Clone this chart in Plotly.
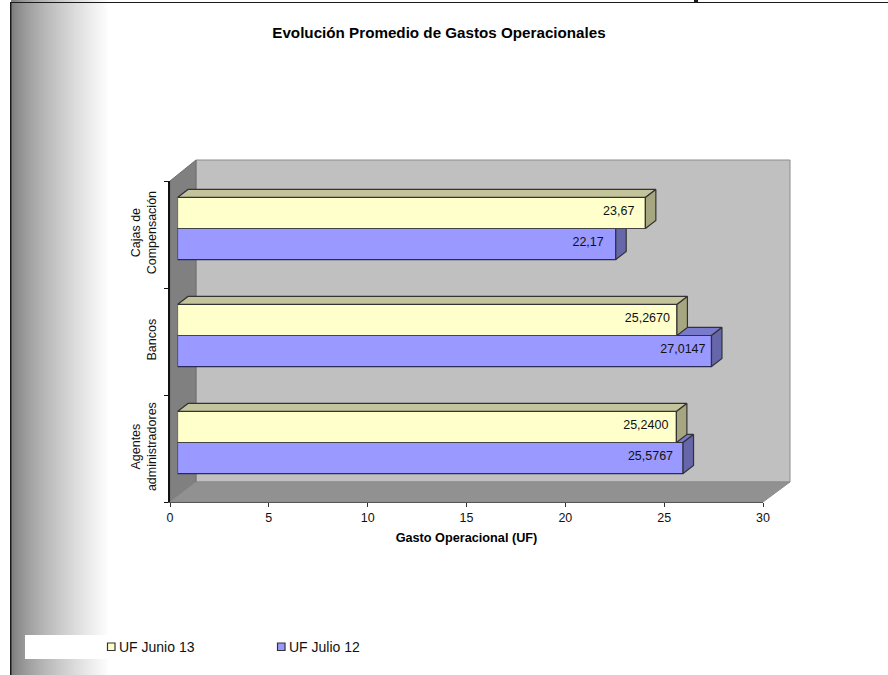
import numpy as np
import plotly.graph_objects as go

# Chart data (bottom to top on the category axis)
categories = ["Agentes<br>administradores", "Bancos", "Cajas de<br>Compensación"]
uf_junio_13 = [25.2400, 25.2670, 23.67]
uf_julio_12 = [25.5767, 27.0147, 22.17]
labels_junio_13 = ["25,2400", "25,2670", "23,67"]
labels_julio_12 = ["25,5767", "27,0147", "22,17"]
x_ticks = [0, 5, 10, 15, 20, 25, 30]
series_names = ["UF Junio 13", "UF Julio 12"]

W, H = 888, 675
FONT = "Liberation Sans"

# Pixel geometry of the pseudo-3D box
PLOT_L, PLOT_R, PLOT_T, PLOT_B = 170, 763, 181, 502
BACK_DX, BACK_DY = 26, 20
BAR_SHIFT_X, BAR_SHIFT_Y = 7.5, 6
BAR_W = 0.29
DEPTH_X = 0.53   # bar depth in x-axis units
DEPTH_Y = 0.075  # bar depth in category units
X_UNIT_PX = (PLOT_R - PLOT_L) / 30

# Distance in pixels from each bar end to the right edge of its label
label_pad_junio_13 = [8, 7, 11]
label_pad_julio_12 = [10, 6, 12]
LABEL_LIFT = 0.01  # small upward nudge of labels, in category units


def px(x):
    return x / W


def py(y):
    return 1 - y / H


def poly(points, fill, line=None, width=1):
    path = "M " + " L ".join(f"{px(a):.5f},{py(b):.5f}" for a, b in points) + " Z"
    return dict(type="path", xref="paper", yref="paper", path=path, fillcolor=fill,
                line=dict(color=line or fill, width=width), layer="below")


def rect(x0, y0, x1, y1, fill, line_w=0, line=None):
    return dict(type="rect", xref="paper", yref="paper", x0=px(x0), x1=px(x1),
                y0=py(y0), y1=py(y1), fillcolor=fill,
                line=dict(color=line or fill, width=line_w), layer="below")


shapes = []

# Soft grey band down the left side of the page
for x in range(11, 108):
    t = (x - 13) / 95 if x > 13 else 0
    g = int(min(255, 128 + 127 * t ** 0.75))
    shapes.append(rect(x, 0, x + 1, H, f"rgb({g},{g},{g})"))
shapes.append(rect(25, 635, 108, 659, "white"))

# Page frame
shapes.append(rect(10, 2, 11.5, H, "#1a1a1a"))
shapes.append(rect(10, 2, W, 3, "#1a1a1a"))
shapes.append(rect(694, 0, 698, 2, "#1a1a1a"))

# Walls and floor of the box
shapes.append(poly([(PLOT_L + BACK_DX, PLOT_T - 21), (PLOT_R + BACK_DX + 1, PLOT_T - 21),
                    (PLOT_R + BACK_DX + 1, PLOT_B - BACK_DY), (PLOT_L + BACK_DX, PLOT_B - BACK_DY)],
                   "#c0c0c0", "#8c8c8c"))
shapes.append(poly([(PLOT_L, PLOT_T), (PLOT_L + BACK_DX, PLOT_T - 21),
                    (PLOT_L + BACK_DX, PLOT_B - BACK_DY), (PLOT_L, PLOT_B)],
                   "#808080", "#707070"))
shapes.append(poly([(PLOT_L, PLOT_B), (PLOT_L + BACK_DX, PLOT_B - BACK_DY),
                    (PLOT_R + BACK_DX + 1, PLOT_B - BACK_DY), (PLOT_R, PLOT_B)],
                   "#919191", "#8c8c8c"))

# Legend swatches
shapes.append(rect(107.5, 643, 115, 650.5, "#ffffcc", 1.2, "#333333"))
shapes.append(rect(277.5, 643, 285, 650.5, "#9999ff", 1.2, "#333333"))


def bar_faces(values, centers, top_color, side_color, axes):
    """Top and right faces of each bar, built from the bar's own value."""
    xa, ya = axes
    top_x, top_y, side_x, side_y = [], [], [], []
    for v, c in zip(values, centers):
        hi, lo = c + BAR_W / 2, c - BAR_W / 2
        top_x += [0, DEPTH_X, v + DEPTH_X, v, 0, None]
        top_y += [hi, hi + DEPTH_Y, hi + DEPTH_Y, hi, hi, None]
        side_x += [v, v + DEPTH_X, v + DEPTH_X, v, v, None]
        side_y += [hi, hi + DEPTH_Y, lo + DEPTH_Y, lo, hi, None]
    faces = []
    for fx, fy, col in ((top_x, top_y, top_color), (side_x, side_y, side_color)):
        faces.append(go.Scatter(x=fx, y=fy, mode="lines", fill="toself", fillcolor=col,
                                line=dict(color="#333333", width=1.2), xaxis=xa, yaxis=ya,
                                showlegend=False, hoverinfo="skip"))
    return faces


def value_labels(values, centers, texts, pads, axes):
    """Value labels right-aligned a few pixels inside each bar end."""
    xa, ya = axes
    return go.Scatter(x=[v - p / X_UNIT_PX for v, p in zip(values, pads)],
                      y=[c + LABEL_LIFT for c in centers],
                      text=texts, mode="text", textposition="middle left",
                      textfont=dict(family=FONT, size=12.5, color="#111111"),
                      xaxis=xa, yaxis=ya, showlegend=False, hoverinfo="skip")


positions = [0, 1, 2]
fig = go.Figure()

# Base axes carry the ticks and labels only
fig.add_trace(go.Scatter(x=[0], y=[0], mode="markers", marker=dict(opacity=0),
                         showlegend=False, hoverinfo="skip"))

# Rear series first so the front series overlaps its depth faces
blue_centers = [p - BAR_W / 2 for p in positions]
yellow_centers = [p + BAR_W / 2 for p in positions]

fig.add_trace(go.Bar(y=blue_centers, x=uf_julio_12, width=BAR_W, orientation="h",
                     name=series_names[1], marker=dict(color="#9999ff", line=dict(color="#2a2a55", width=1.2)),
                     xaxis="x2", yaxis="y2", showlegend=False))
for tr in bar_faces(uf_julio_12, blue_centers, "#7a7acc", "#6666aa", ("x2", "y2")):
    fig.add_trace(tr)
fig.add_trace(value_labels(uf_julio_12, blue_centers, labels_julio_12, label_pad_julio_12, ("x2", "y2")))

fig.add_trace(go.Bar(y=yellow_centers, x=uf_junio_13, width=BAR_W, orientation="h",
                     name=series_names[0], marker=dict(color="#ffffcc", line=dict(color="#444444", width=1.2)),
                     xaxis="x3", yaxis="y3", showlegend=False))
for tr in bar_faces(uf_junio_13, yellow_centers, "#c4c49c", "#a6a680", ("x3", "y3")):
    fig.add_trace(tr)
fig.add_trace(value_labels(uf_junio_13, yellow_centers, labels_junio_13, label_pad_junio_13, ("x3", "y3")))

shift_x_dom = [px(PLOT_L + BAR_SHIFT_X), px(PLOT_R + BAR_SHIFT_X)]
shift_y_dom = [py(PLOT_B - BAR_SHIFT_Y), py(PLOT_T - BAR_SHIFT_Y)]
hidden = dict(visible=False, fixedrange=True)

fig.update_layout(
    width=W, height=H,
    margin=dict(l=0, r=0, t=0, b=0, pad=0, autoexpand=False),
    paper_bgcolor="white", plot_bgcolor="rgba(0,0,0,0)",
    font=dict(family=FONT, size=12.5, color="#111111"),
    showlegend=False,
    barmode="overlay",
    shapes=shapes,
    title=dict(text="<b>Evolución Promedio de Gastos Operacionales</b>",
               x=439 / W, xanchor="center", y=py(33), yanchor="middle",
               font=dict(family=FONT, size=15.2, color="black")),
    xaxis=dict(domain=[px(PLOT_L), px(PLOT_R)], range=[0, 30], tickvals=x_ticks,
               ticks="outside", ticklen=4, tickcolor="#333333", showgrid=False, zeroline=False,
               showline=True, linecolor="#555555", linewidth=1,
               title=dict(text="<b>Gasto Operacional (UF)</b>", standoff=9,
                          font=dict(family=FONT, size=12.7, color="black")),
               anchor="y"),
    yaxis=dict(domain=[py(PLOT_B), py(PLOT_T)], range=[-0.5, 2.5], tickvals=positions,
               ticktext=categories, tickangle=-90, ticks="", showgrid=False, zeroline=False,
               showline=True, linecolor="#111111", linewidth=1.5, ticklabelstandoff=7,
               minor=dict(tickvals=[-0.5, 0.5, 1.5, 2.5], ticks="outside", ticklen=4, tickcolor="#111111"),
               anchor="x"),
    xaxis2=dict(domain=shift_x_dom, range=[0, 30], anchor="y2", **hidden),
    yaxis2=dict(domain=shift_y_dom, range=[-0.5, 2.5], anchor="x2", **hidden),
    xaxis3=dict(domain=shift_x_dom, range=[0, 30], anchor="y3", **hidden),
    yaxis3=dict(domain=shift_y_dom, range=[-0.5, 2.5], anchor="x3", **hidden),
    annotations=[
        dict(text=series_names[0], x=px(117), y=py(647), xref="paper", yref="paper",
             xanchor="left", yanchor="middle", showarrow=False,
             font=dict(family=FONT, size=14, color="#111111")),
        dict(text=series_names[1], x=px(287), y=py(647), xref="paper", yref="paper",
             xanchor="left", yanchor="middle", showarrow=False,
             font=dict(family=FONT, size=14, color="#111111")),
    ],
)

fig.write_html("out.html")
